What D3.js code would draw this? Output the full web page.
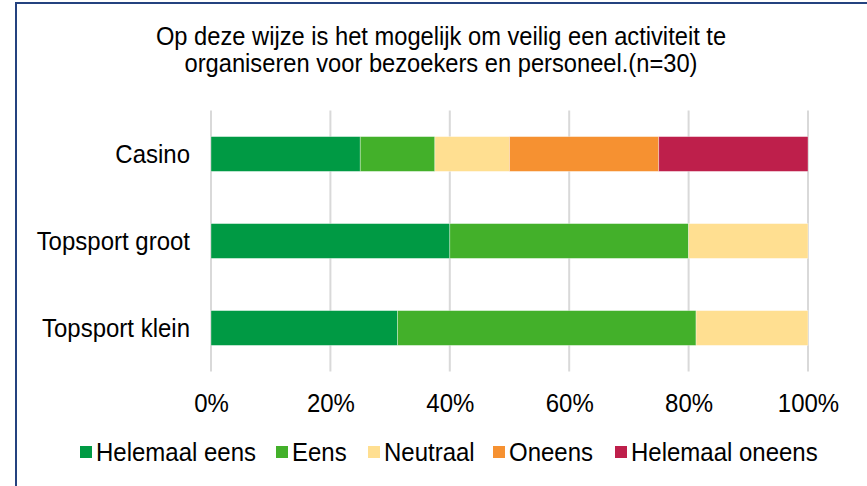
<!DOCTYPE html>
<html>
<head>
<meta charset="utf-8">
<script src="https://cdn.jsdelivr.net/npm/d3@7"></script>
<style>
  html, body { margin: 0; padding: 0; background: #fff; }
  svg { display: block; font-family: "Liberation Sans", Arial, sans-serif; }
</style>
</head>
<body>
<svg id="chart" width="867" height="486"></svg>
<script>
// Categories (top to bottom) and series shares in percent
const categories = ["Casino", "Topsport groot", "Topsport klein"];
const seriesNames = ["Helemaal eens", "Eens", "Neutraal", "Oneens", "Helemaal oneens"];
const seriesColors = ["#009A44", "#43B02A", "#FFDF91", "#F69131", "#BE1F4B"];
const helemaalEens = [25, 40, 31.25];
const eens = [12.5, 40, 50];
const neutraal = [12.5, 20, 18.75];
const oneens = [25, 0, 0];
const helemaalOneens = [25, 0, 0];
const tickValues = [0, 20, 40, 60, 80, 100];
const titleLines = ["Op deze wijze is het mogelijk om veilig een activiteit te",
                    "organiseren voor bezoekers en personeel.(n=30)"];

const seriesValues = [helemaalEens, eens, neutraal, oneens, helemaalOneens];
const rows = categories.map((c, i) => {
  const r = { cat: c };
  seriesNames.forEach((s, k) => { r[s] = seriesValues[k][i]; });
  return r;
});

const svg = d3.select("#chart");
const FONT = 24;
const STRETCH = 1.08; // slightly tall lettering

// Frame
svg.append("path")
  .attr("d", "M16,486 V3 H867")
  .attr("fill", "none")
  .attr("stroke", "#24427F")
  .attr("stroke-width", 2);

const plot = { left: 211, right: 808, top: 110.5, bottom: 371.5 };

const x = d3.scaleLinear().domain([0, 100]).range([plot.left, plot.right]);
const y = d3.scaleBand().domain(categories).range([plot.top, plot.bottom]).paddingInner(0.6).paddingOuter(0.3);

// Title
svg.append("g").selectAll("text").data(titleLines).join("text")
  .attr("transform", (d, i) => `translate(441,${45 + i * 27}) scale(1,${STRETCH})`)
  .attr("text-anchor", "middle")
  .attr("font-size", 23.7)
  .attr("fill", "#000")
  .text(d => d);

// Vertical gridlines
svg.append("g").selectAll("line").data(tickValues).join("line")
  .attr("x1", d => x(d)).attr("x2", d => x(d))
  .attr("y1", plot.top).attr("y2", plot.bottom)
  .attr("stroke", "#D9D9D9")
  .attr("stroke-width", 2);

// Stacked bars
const stack = d3.stack().keys(seriesNames)(rows);
const color = d3.scaleOrdinal().domain(seriesNames).range(seriesColors);

svg.append("g").selectAll("g").data(stack).join("g")
  .attr("fill", d => color(d.key))
  .selectAll("rect").data(d => d.filter(p => p[1] > p[0])).join("rect")
  .attr("x", d => x(d[0]))
  .attr("width", d => x(d[1]) - x(d[0]))
  .attr("y", d => y(d.data.cat))
  .attr("height", y.bandwidth())
  .attr("stroke", "rgba(255,255,255,0.45)")
  .attr("stroke-width", 0.75);

// X axis labels
const xAxis = d3.axisBottom(x).tickValues(tickValues).tickFormat(d => d + "%").tickSize(0).tickPadding(0);
const gx = svg.append("g").attr("transform", `translate(0,${plot.bottom})`).call(xAxis);
gx.select(".domain").remove();
gx.selectAll("text")
  .attr("font-family", "Liberation Sans, Arial, sans-serif")
  .attr("font-size", FONT)
  .attr("fill", "#000")
  .attr("dy", 0)
  .attr("y", 0)
  .attr("transform", `translate(0,40) scale(1,${STRETCH})`);

// Y axis labels
const yAxis = d3.axisLeft(y).tickSize(0).tickPadding(0);
const gy = svg.append("g").attr("transform", `translate(190,0)`).call(yAxis);
gy.select(".domain").remove();
gy.selectAll("text")
  .attr("font-family", "Liberation Sans, Arial, sans-serif")
  .attr("font-size", FONT)
  .attr("fill", "#000")
  .attr("x", 0)
  .attr("dy", 0)
  .attr("transform", `translate(0,${0.36 * FONT * STRETCH}) scale(1,${STRETCH})`);

// Legend
const legendX = [80, 276, 368, 493, 615];
const legend = svg.append("g").selectAll("g").data(seriesNames).join("g")
  .attr("transform", (d, i) => `translate(${legendX[i]},446)`);
legend.append("rect")
  .attr("width", 12).attr("height", 12)
  .attr("fill", d => color(d));
legend.append("text")
  .attr("transform", `translate(16,14.5) scale(1,${STRETCH})`)
  .attr("font-size", FONT)
  .attr("fill", "#000")
  .text(d => d);
</script>
</body>
</html>
